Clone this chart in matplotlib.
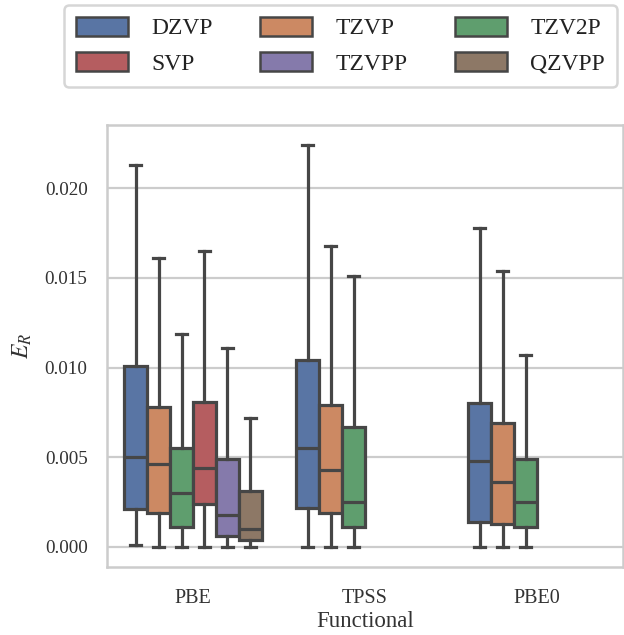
import matplotlib.pyplot as plt
from matplotlib.patches import Patch

functionals = ["PBE", "TPSS", "PBE0"]
basis_sets = ["DZVP", "TZVP", "TZV2P", "SVP", "TZVPP", "QZVPP"]
colors = ["#5975a4", "#cc8963", "#5f9e6e", "#b55d60", "#857aab", "#8d7866"]

# box statistics per functional, in basis_sets order (TPSS / PBE0 only first three)
whis_low = [[0.0001, 0.0, 0.0, 0.0, 0.0, 0.0],
            [0.0, 0.0, 0.0],
            [0.0, 0.0, 0.0]]
q1 = [[0.0021, 0.0019, 0.0011, 0.0024, 0.0006, 0.0004],
      [0.0022, 0.0019, 0.0011],
      [0.0014, 0.0013, 0.0011]]
med = [[0.0050, 0.0046, 0.0030, 0.0044, 0.0018, 0.0010],
       [0.0055, 0.0043, 0.0025],
       [0.0048, 0.0036, 0.0025]]
q3 = [[0.0101, 0.0078, 0.0055, 0.0081, 0.0049, 0.0031],
      [0.0104, 0.0079, 0.0067],
      [0.0080, 0.0069, 0.0049]]
whis_high = [[0.0213, 0.0161, 0.0119, 0.0165, 0.0111, 0.0072],
             [0.0224, 0.0168, 0.0151],
             [0.0178, 0.0154, 0.0107]]

plt.rcParams["font.family"] = ["Liberation Serif", "DejaVu Serif"]
plt.rcParams["mathtext.fontset"] = "stix"

edge = "#464646"
lw = 2.3
grey = "#cccccc"

fig = plt.figure(figsize=(6.24, 6.35), dpi=100)
ax = fig.add_axes([0.1715, 0.107, 0.827, 0.696])

n_hue = len(basis_sets)
width = 0.8 / n_hue
for i, func in enumerate(functionals):
    for j in range(len(med[i])):
        pos = i + (j - (n_hue - 1) / 2) * width
        stats = [dict(whislo=whis_low[i][j], q1=q1[i][j], med=med[i][j],
                      q3=q3[i][j], whishi=whis_high[i][j], fliers=[])]
        ax.bxp(stats, positions=[pos], widths=[width], patch_artist=True,
               manage_ticks=False,
               boxprops=dict(facecolor=colors[j], edgecolor=edge, linewidth=lw),
               medianprops=dict(color=edge, linewidth=lw),
               whiskerprops=dict(color=edge, linewidth=lw),
               capprops=dict(color=edge, linewidth=lw))

ax.set_xlim(-0.5, len(functionals) - 0.5)
ax.set_xticks(range(len(functionals)))
ax.set_xticklabels(functionals)
ax.set_yticks([0.0, 0.005, 0.010, 0.015, 0.020])
ax.set_yticklabels(["0.000", "0.005", "0.010", "0.015", "0.020"])
ax.tick_params(length=0, colors="#333333")
ax.tick_params(axis="x", labelsize=14.5, pad=16)
ax.tick_params(axis="y", labelsize=13.8, pad=14)
ax.yaxis.grid(True, color=grey, linewidth=1.6)
ax.set_axisbelow(True)
for sp in ax.spines.values():
    sp.set_color(grey)
    sp.set_linewidth(1.8)

ax.set_xlabel("Functional", fontsize=16.5, color="#333333", labelpad=2)
ax.set_ylabel("$E_R$", fontsize=17, color="#333333", labelpad=8)

# legend filled row by row
order = [0, 3, 1, 4, 2, 5]
handles = [Patch(facecolor=colors[k], edgecolor=edge, linewidth=1.8,
                 label=basis_sets[k]) for k in order]
leg = fig.legend(handles=handles, ncol=3, loc="upper center",
                 bbox_to_anchor=(340.5 / 624, 1 - 5 / 635), borderaxespad=0,
                 fontsize=17, handlelength=2.2, handleheight=0.85,
                 handletextpad=1.0, columnspacing=2.0, labelspacing=0.55,
                 borderpad=0.5, frameon=True, fancybox=True)
leg.get_frame().set_edgecolor(grey)
leg.get_frame().set_linewidth(1.8)
for t in leg.get_texts():
    t.set_color("#222222")

fig.savefig("out.png", dpi=100)
